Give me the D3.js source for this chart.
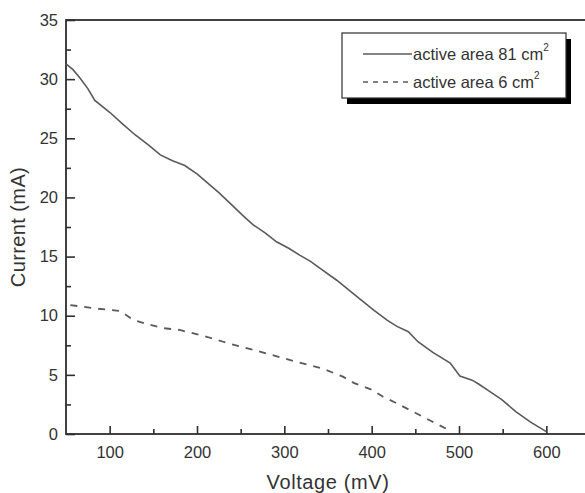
<!DOCTYPE html>
<html>
<head>
<meta charset="utf-8">
<script src="https://cdn.jsdelivr.net/npm/d3@7"></script>
<style>
  body { margin: 0; background: #fff; }
  text { font-family: "Liberation Sans", Arial, sans-serif; fill: #333; }
</style>
</head>
<body>
<svg id="chart" width="585" height="493"></svg>
<script>
// series (voltage mV -> current mA)
const bigVoltage = [50, 58, 66, 75, 83, 100, 115, 129, 145, 158, 172, 186, 200, 211, 225, 238, 252, 264, 278, 291, 305, 318, 330, 341, 360, 380, 402, 418, 429, 442, 453, 470, 490, 501, 515, 522, 535, 549, 565, 582, 600];
const bigCurrent = [31.3, 30.8, 30.1, 29.2, 28.2, 27.2, 26.2, 25.3, 24.4, 23.6, 23.1, 22.7, 22.0, 21.3, 20.4, 19.5, 18.5, 17.7, 17.0, 16.25, 15.7, 15.1, 14.6, 14.0, 13.0, 11.8, 10.5, 9.6, 9.1, 8.65, 7.8, 6.9, 6.0, 4.9, 4.55, 4.25, 3.6, 2.9, 1.9, 1.0, 0.2];

const smallVoltage = [55, 70, 85, 100, 112, 127, 145, 161, 180, 196, 212, 230, 249, 265, 280, 297, 314, 330, 345, 367, 380, 400, 413, 430, 447, 468, 488];
const smallCurrent = [10.9, 10.75, 10.6, 10.5, 10.4, 9.65, 9.25, 8.95, 8.8, 8.5, 8.2, 7.8, 7.4, 7.1, 6.8, 6.45, 6.1, 5.8, 5.5, 4.85, 4.3, 3.75, 3.15, 2.55, 1.9, 1.1, 0.35];

const legendLabels = ["active area 81 cm", "active area 6 cm"];
const xMajor = [100, 200, 300, 400, 500, 600];
const yMajor = [0, 5, 10, 15, 20, 25, 30, 35];

const svg = d3.select("#chart");
const mLeft = 66, mRight = 590, mTop = 20, mBottom = 434;

const x = d3.scaleLinear().domain([50, 650]).range([mLeft, mRight]);
const y = d3.scaleLinear().domain([0, 35]).range([mBottom, mTop]);

const ink = "#2e2e2e";

// frame
svg.append("rect")
  .attr("x", mLeft).attr("y", mTop)
  .attr("width", mRight - mLeft).attr("height", mBottom - mTop)
  .attr("fill", "none").attr("stroke", ink).attr("stroke-width", 1.8);

// x axis, ticks inward
const xAxis = svg.append("g").attr("transform", `translate(0,${mBottom})`);
xAxis.call(d3.axisBottom(x).tickValues(d3.range(100, 651, 50)).tickSize(0).tickFormat(""));
xAxis.select(".domain").remove();
xAxis.selectAll(".tick line")
  .attr("y2", d => xMajor.includes(d) ? -8 : -5)
  .attr("stroke", ink).attr("stroke-width", 1.6);
xAxis.selectAll(".tick text")
  .text(d => xMajor.includes(d) ? d : "")
  .attr("y", 12).attr("font-size", 16.5).attr("fill", "#3a3a3a");

// y axis, ticks inward
const yAxis = svg.append("g").attr("transform", `translate(${mLeft},0)`);
yAxis.call(d3.axisLeft(y).tickValues(d3.range(0, 35.1, 2.5)).tickSize(0).tickFormat(""));
yAxis.select(".domain").remove();
yAxis.selectAll(".tick line")
  .attr("x2", d => yMajor.includes(d) ? 9 : 5)
  .attr("stroke", ink).attr("stroke-width", 1.6);
yAxis.selectAll(".tick text")
  .text(d => yMajor.includes(d) ? d : "")
  .attr("x", -8).attr("font-size", 16.5).attr("fill", "#3a3a3a");

// axis titles
svg.append("text")
  .attr("x", (mLeft + mRight) / 2).attr("y", 489)
  .attr("text-anchor", "middle").attr("font-size", 20)
  .attr("letter-spacing", 0.6).attr("fill", "#3a3a3a")
  .text("Voltage (mV)");
svg.append("text")
  .attr("transform", `translate(25,${(mTop + mBottom) / 2}) rotate(-90)`)
  .attr("text-anchor", "middle").attr("font-size", 20)
  .attr("letter-spacing", 0.4).attr("fill", "#3a3a3a")
  .text("Current (mA)");

// lines
const line = d3.line().x(d => x(d[0])).y(d => y(d[1]));
const lineColor = "#5a5a5a";

svg.append("path")
  .datum(d3.zip(bigVoltage, bigCurrent))
  .attr("d", line)
  .attr("fill", "none").attr("stroke", lineColor).attr("stroke-width", 1.6);

svg.append("path")
  .datum(d3.zip(smallVoltage, smallCurrent))
  .attr("d", line)
  .attr("fill", "none").attr("stroke", lineColor).attr("stroke-width", 1.8)
  .attr("stroke-dasharray", "7,7");

// legend with drop shadow
const lg = svg.append("g");
lg.append("rect").attr("x", 347).attr("y", 39).attr("width", 224).attr("height", 65).attr("fill", "#000");
lg.append("rect").attr("x", 342).attr("y", 33).attr("width", 224).attr("height", 65)
  .attr("fill", "#fff").attr("stroke", ink).attr("stroke-width", 1.2);

legendLabels.forEach((label, i) => {
  const ly = 54 + i * 28;
  lg.append("line")
    .attr("x1", 363).attr("x2", 412).attr("y1", ly).attr("y2", ly)
    .attr("stroke", lineColor).attr("stroke-width", 1.5)
    .attr("stroke-dasharray", i === 0 ? null : "5,5");
  const t = lg.append("text").attr("x", 413).attr("y", ly + 6).attr("font-size", 16.5).attr("fill", "#222");
  t.append("tspan").text(label);
  t.append("tspan").attr("dy", -9).attr("font-size", 10).text("2");
});
</script>
</body>
</html>
